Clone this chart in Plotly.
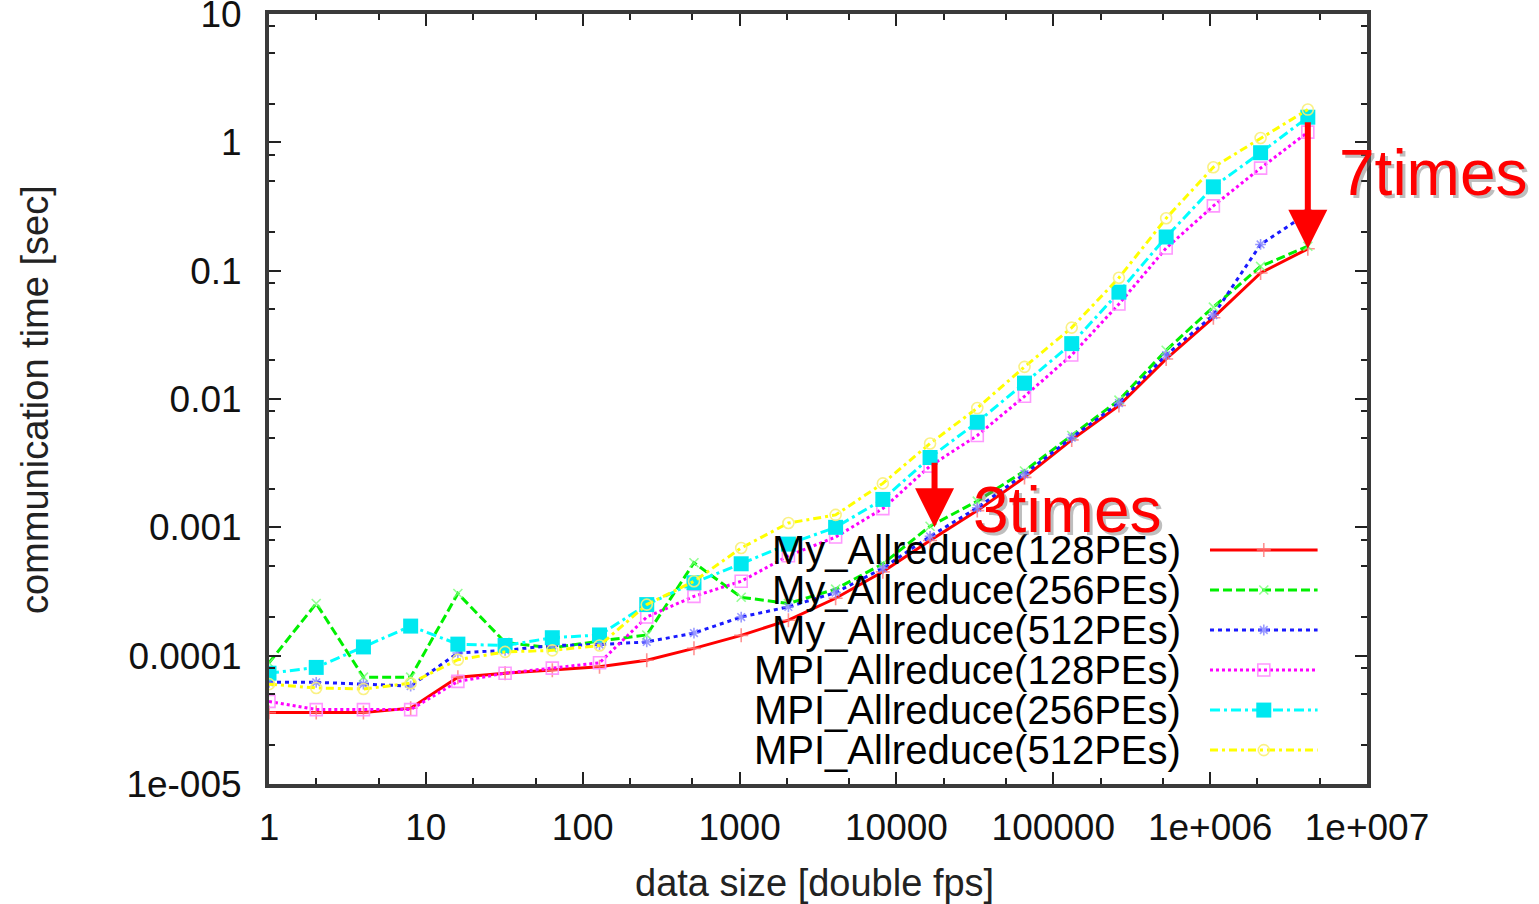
import plotly.graph_objects as go

# Message size in doubles (powers of two)
data_size = [1, 2, 4, 8, 16, 32, 64, 128, 256, 512, 1024, 2048, 4096, 8192,
             16384, 32768, 65536, 131072, 262144, 524288, 1048576, 2097152, 4194304]

# Communication time [sec]
my_128 = [3.6e-5, 3.6e-5, 3.6e-5, 3.9e-5, 6.8e-5, 7.3e-5, 7.7e-5, 8.2e-5, 9.2e-5,
          1.14e-4, 1.44e-4, 1.89e-4, 2.8e-4, 4.5e-4, 7.9e-4, 1.35e-3, 2.45e-3,
          4.8e-3, 8.9e-3, 0.0205, 0.043, 0.096, 0.148]
my_256 = [8.8e-5, 2.55e-4, 6.8e-5, 6.8e-5, 3.05e-4, 1.27e-4, 1.15e-4, 1.3e-4, 1.45e-4,
          5.3e-4, 2.85e-4, 2.55e-4, 3.3e-4, 5.2e-4, 1.02e-3, 1.6e-3, 2.75e-3,
          5.2e-3, 9.8e-3, 0.024, 0.052, 0.108, 0.155]
my_512 = [6.2e-5, 6.2e-5, 6.0e-5, 5.8e-5, 1.05e-4, 1.1e-4, 1.2e-4, 1.22e-4, 1.28e-4,
          1.5e-4, 2.0e-4, 2.4e-4, 3.1e-4, 4.8e-4, 8.5e-4, 1.42e-3, 2.6e-3,
          5.0e-3, 9.3e-3, 0.022, 0.045, 0.16, 0.28]
mpi_128 = [4.4e-5, 3.8e-5, 3.8e-5, 3.8e-5, 6.3e-5, 7.3e-5, 8.0e-5, 8.8e-5, 2.0e-4,
           2.9e-4, 3.8e-4, 6.0e-4, 8.4e-4, 1.4e-3, 3.0e-3, 5.2e-3, 0.0105,
           0.022, 0.055, 0.15, 0.32, 0.63, 1.2]
mpi_256 = [7.3e-5, 8.1e-5, 1.17e-4, 1.7e-4, 1.23e-4, 1.2e-4, 1.38e-4, 1.45e-4, 2.5e-4,
           3.7e-4, 5.2e-4, 7.4e-4, 1.0e-3, 1.65e-3, 3.5e-3, 6.6e-3, 0.0133,
           0.027, 0.068, 0.183, 0.45, 0.83, 1.57]
mpi_512 = [6.0e-5, 5.6e-5, 5.5e-5, 6.1e-5, 9.3e-5, 1.07e-4, 1.1e-4, 1.2e-4, 2.5e-4,
           3.8e-4, 6.9e-4, 1.08e-3, 1.25e-3, 2.2e-3, 4.5e-3, 8.5e-3, 0.0178,
           0.036, 0.088, 0.256, 0.64, 1.08, 1.8]

series_names = ["My_Allreduce(128PEs)", "My_Allreduce(256PEs)", "My_Allreduce(512PEs)",
                "MPI_Allreduce(128PEs)", "MPI_Allreduce(256PEs)", "MPI_Allreduce(512PEs)"]
series_values = [my_128, my_256, my_512, mpi_128, mpi_256, mpi_512]

x_tick_vals = [1, 10, 100, 1000, 10000, 100000, 1e6, 1e7]
x_tick_text = ["1", "10", "100", "1000", "10000", "100000", "1e+006", "1e+007"]
y_tick_vals = [1e-5, 1e-4, 1e-3, 1e-2, 1e-1, 1, 10]
y_tick_text = ["1e-005", "0.0001", "0.001", "0.01", "0.1", "1", "10"]

# gnuplot-like line styles: (line colour, dash, marker symbol, marker size, marker colour)
styles = [
    ("#ff0000", "solid", "cross-thin-open", 10, "rgba(255,120,120,0.8)"),
    ("#00f000", "9px,4px", "x-thin-open", 9, "rgba(120,255,120,0.8)"),
    ("#1a1aff", "4px,4px", "asterisk-open", 9, "rgba(130,130,255,0.8)"),
    ("#ff00ff", "3px,3px", "square-open", 12, "rgba(255,140,255,0.9)"),
    ("#00ffff", "10px,4px,3px,4px", "square", 15, "#00e8f0"),
    ("#ffff00", "8px,4px,3px,4px", "circle-open", 11, "rgba(250,240,120,0.9)"),
]

FONT = "Liberation Sans, Arial, Helvetica, sans-serif"


def marker_for(sym, msize, mcol):
    if sym == "square":
        return dict(symbol=sym, size=msize, color=mcol, line=dict(width=0))
    return dict(symbol=sym, size=msize, color=mcol, line=dict(color=mcol, width=1.6))


fig = go.Figure()

for name, vals, (col, dash, sym, msize, mcol) in zip(series_names, series_values, styles):
    fig.add_trace(go.Scatter(
        x=data_size, y=vals, name=name, mode="lines+markers",
        line=dict(color=col, width=3, dash=dash),
        marker=marker_for(sym, msize, mcol), showlegend=False,
    ))

# Key drawn gnuplot-style: right-aligned labels with line samples to their right
key_rows = [0.304, 0.252, 0.200, 0.148, 0.096, 0.044]
for name, (col, dash, sym, msize, mcol), ry in zip(series_names, styles, key_rows):
    fig.add_trace(go.Scatter(
        x=[0.857, 0.955], y=[ry, ry], mode="lines", xaxis="x2", yaxis="y2",
        line=dict(color=col, width=3, dash=dash), showlegend=False, hoverinfo="skip",
    ))
    fig.add_trace(go.Scatter(
        x=[0.906], y=[ry], mode="markers", xaxis="x2", yaxis="y2",
        marker=marker_for(sym, msize, mcol), showlegend=False, hoverinfo="skip",
    ))
    fig.add_annotation(
        text=name, xref="paper", yref="paper", x=0.8324, y=ry,
        xanchor="right", yanchor="middle", showarrow=False,
        font=dict(family=FONT, size=40, color="#000000"),
    )

# Speed-up arrows and labels
fig.add_annotation(x=4.243, y=-3.0, xref="x", yref="y", ax=0, ay=-66,
                   showarrow=True, arrowhead=2, arrowsize=1.3, arrowwidth=6,
                   arrowcolor="#ff0000", text="")
fig.add_annotation(x=6.6227, y=-0.83, xref="x", yref="y", ax=0, ay=-128,
                   showarrow=True, arrowhead=2, arrowsize=1.3, arrowwidth=6,
                   arrowcolor="#ff0000", text="")
for label, lx, ly in [("7times", 1.061, 0.7935), ("3times", 0.7268, 0.3558)]:
    fig.add_annotation(text=label, xref="paper", yref="paper", x=lx, y=ly,
                       xanchor="center", yanchor="middle",
                       xshift=3, yshift=-3, showarrow=False,
                       font=dict(family=FONT, size=64, color="rgba(110,110,110,0.45)"))
    fig.add_annotation(text=label, xref="paper", yref="paper", x=lx, y=ly,
                       xanchor="center", yanchor="middle",
                       showarrow=False, font=dict(family=FONT, size=64, color="#ff0000"))

# Axis titles
fig.add_annotation(text="communication time [sec]", xref="paper", yref="paper",
                   x=-0.2131, y=0.4987, textangle=-90, showarrow=False,
                   xanchor="center", yanchor="middle",
                   font=dict(family=FONT, size=38, color="#222222"))
fig.add_annotation(text="data size [double fps]", xref="paper", yref="paper",
                   x=0.497, y=-0.1286, showarrow=False,
                   xanchor="center", yanchor="middle",
                   font=dict(family=FONT, size=38, color="#222222"))

minor_x = [m * 10 ** d for d in range(0, 7) for m in (2, 5)]
minor_y = [m * 10 ** d for d in range(-5, 1) for m in (2, 5, 8)]

axis_common = dict(
    showline=True, linewidth=4, linecolor="#3a3a3a", mirror="ticks",
    ticks="inside", ticklen=12, tickwidth=2, tickcolor="#222222",
    showgrid=False, zeroline=False, ticklabeloverflow="allow", automargin=False,
    tickfont=dict(family=FONT, size=37, color="#111111"),
)

fig.update_layout(
    width=1539, height=904,
    margin=dict(l=269, r=172, t=14, b=120),
    paper_bgcolor="white", plot_bgcolor="white",
    xaxis=dict(type="log", range=[0, 7], tickvals=x_tick_vals, ticktext=x_tick_text,
               ticklabelstandoff=8,
               minor=dict(tickvals=minor_x, ticks="inside", ticklen=6, tickwidth=2,
                          tickcolor="#222222", showgrid=False),
               **axis_common),
    yaxis=dict(type="log", range=[-5, 1], tickvals=y_tick_vals, ticktext=y_tick_text,
               ticklabelstandoff=16,
               minor=dict(tickvals=minor_y, ticks="inside", ticklen=6, tickwidth=2,
                          tickcolor="#222222", showgrid=False),
               **axis_common),
    xaxis2=dict(overlaying="x", range=[0, 1], visible=False, fixedrange=True),
    yaxis2=dict(overlaying="y", range=[0, 1], visible=False, fixedrange=True),
    showlegend=False,
)

fig.write_html("out.html")
